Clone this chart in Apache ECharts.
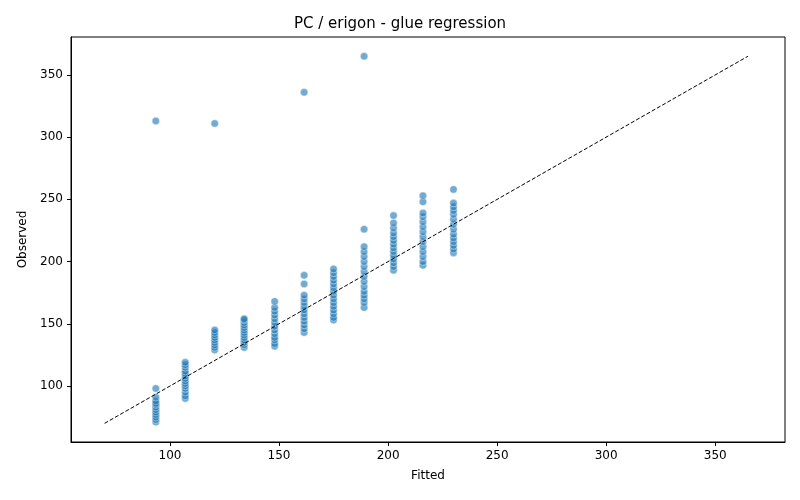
<!DOCTYPE html>
<html><head><meta charset="utf-8">
<script src="https://cdn.jsdelivr.net/npm/echarts@6/dist/echarts.min.js"></script>
<style>html,body{margin:0;padding:0;background:#fff}#c{width:800px;height:500px}</style>
</head><body><div id="c"></div>
<script>
const fittedLevels = [93.5, 107, 120.5, 134, 148, 161.5, 175, 189, 202.5, 216, 230];
const observedByLevel = [
  [71, 73, 75, 77, 79, 81, 83, 85, 86, 88, 91, 98, 313],
  [90, 92, 95, 98, 100, 102, 104, 106, 108, 110, 112, 115, 117, 119],
  [129, 131, 133, 135, 137, 139, 141, 143, 145, 311],
  [131, 133, 135, 137, 139, 141, 143, 145, 147, 149, 151, 153, 154],
  [132, 134, 137, 139, 142, 145, 148, 151, 154, 157, 160, 163, 168],
  [143, 146, 149, 152, 155, 158, 161, 164, 167, 170, 173, 182, 189, 336],
  [153, 155, 158, 161, 164, 167, 170, 173, 176, 179, 182, 185, 188, 191, 194],
  [163, 167, 170, 173, 176, 180, 184, 188, 192, 196, 200, 204, 208, 212, 226, 365],
  [193, 196, 199, 202, 205, 208, 211, 214, 217, 220, 223, 227, 231, 237],
  [197, 200, 204, 208, 212, 216, 220, 224, 228, 232, 236, 239, 248, 253],
  [207, 210, 213, 216, 219, 222, 226, 230, 234, 238, 241, 244, 247, 258]
];
const xTicks = [100, 150, 200, 250, 300, 350];
const yTicks = [100, 150, 200, 250, 300, 350];
const refLine = [[70, 70], [365, 365]];
const points = [];
fittedLevels.forEach((f, i) => observedByLevel[i].forEach(o => points.push([f, o])));
const chart = echarts.init(document.getElementById('c'));
function axis(extra, ticks) {
  return Object.assign({
    type: 'value',
    axisLine: {show: true, onZero: false, lineStyle: {color: '#000'}},
    axisTick: {show: true, length: 4, customValues: ticks, lineStyle: {color: '#000'}},
    axisLabel: {color: '#000', fontSize: 12, fontFamily: 'DejaVu Sans', customValues: ticks},
    splitLine: {show: false},
    nameLocation: 'middle',
    nameTextStyle: {color: '#000', fontSize: 12, fontFamily: 'DejaVu Sans'}
  }, extra);
}
chart.setOption({
  animation: false,
  title: {text: 'PC / erigon - glue regression', left: 'center', top: 12,
    textStyle: {fontSize: 15, fontWeight: 'normal', color: '#000', fontFamily: 'DejaVu Sans'}},
  grid: {left: 71, right: 15, top: 37, bottom: 58, show: true, borderColor: '#000', borderWidth: 1},
  xAxis: axis({min: 54.6, max: 382, name: 'Fitted', nameGap: 28}, xTicks),
  yAxis: axis({min: 55, max: 380.5, name: 'Observed', nameGap: 40}, yTicks),
  series: [
    {type: 'scatter', data: points, symbolSize: 7.5,
      itemStyle: {color: 'rgba(31,119,180,0.78)', borderColor: '#fff', borderWidth: 0.5}},
    {type: 'line', data: refLine, symbol: 'none',
      lineStyle: {color: '#000', width: 1, type: [4, 2]}}
  ]
});
</script></body></html>
